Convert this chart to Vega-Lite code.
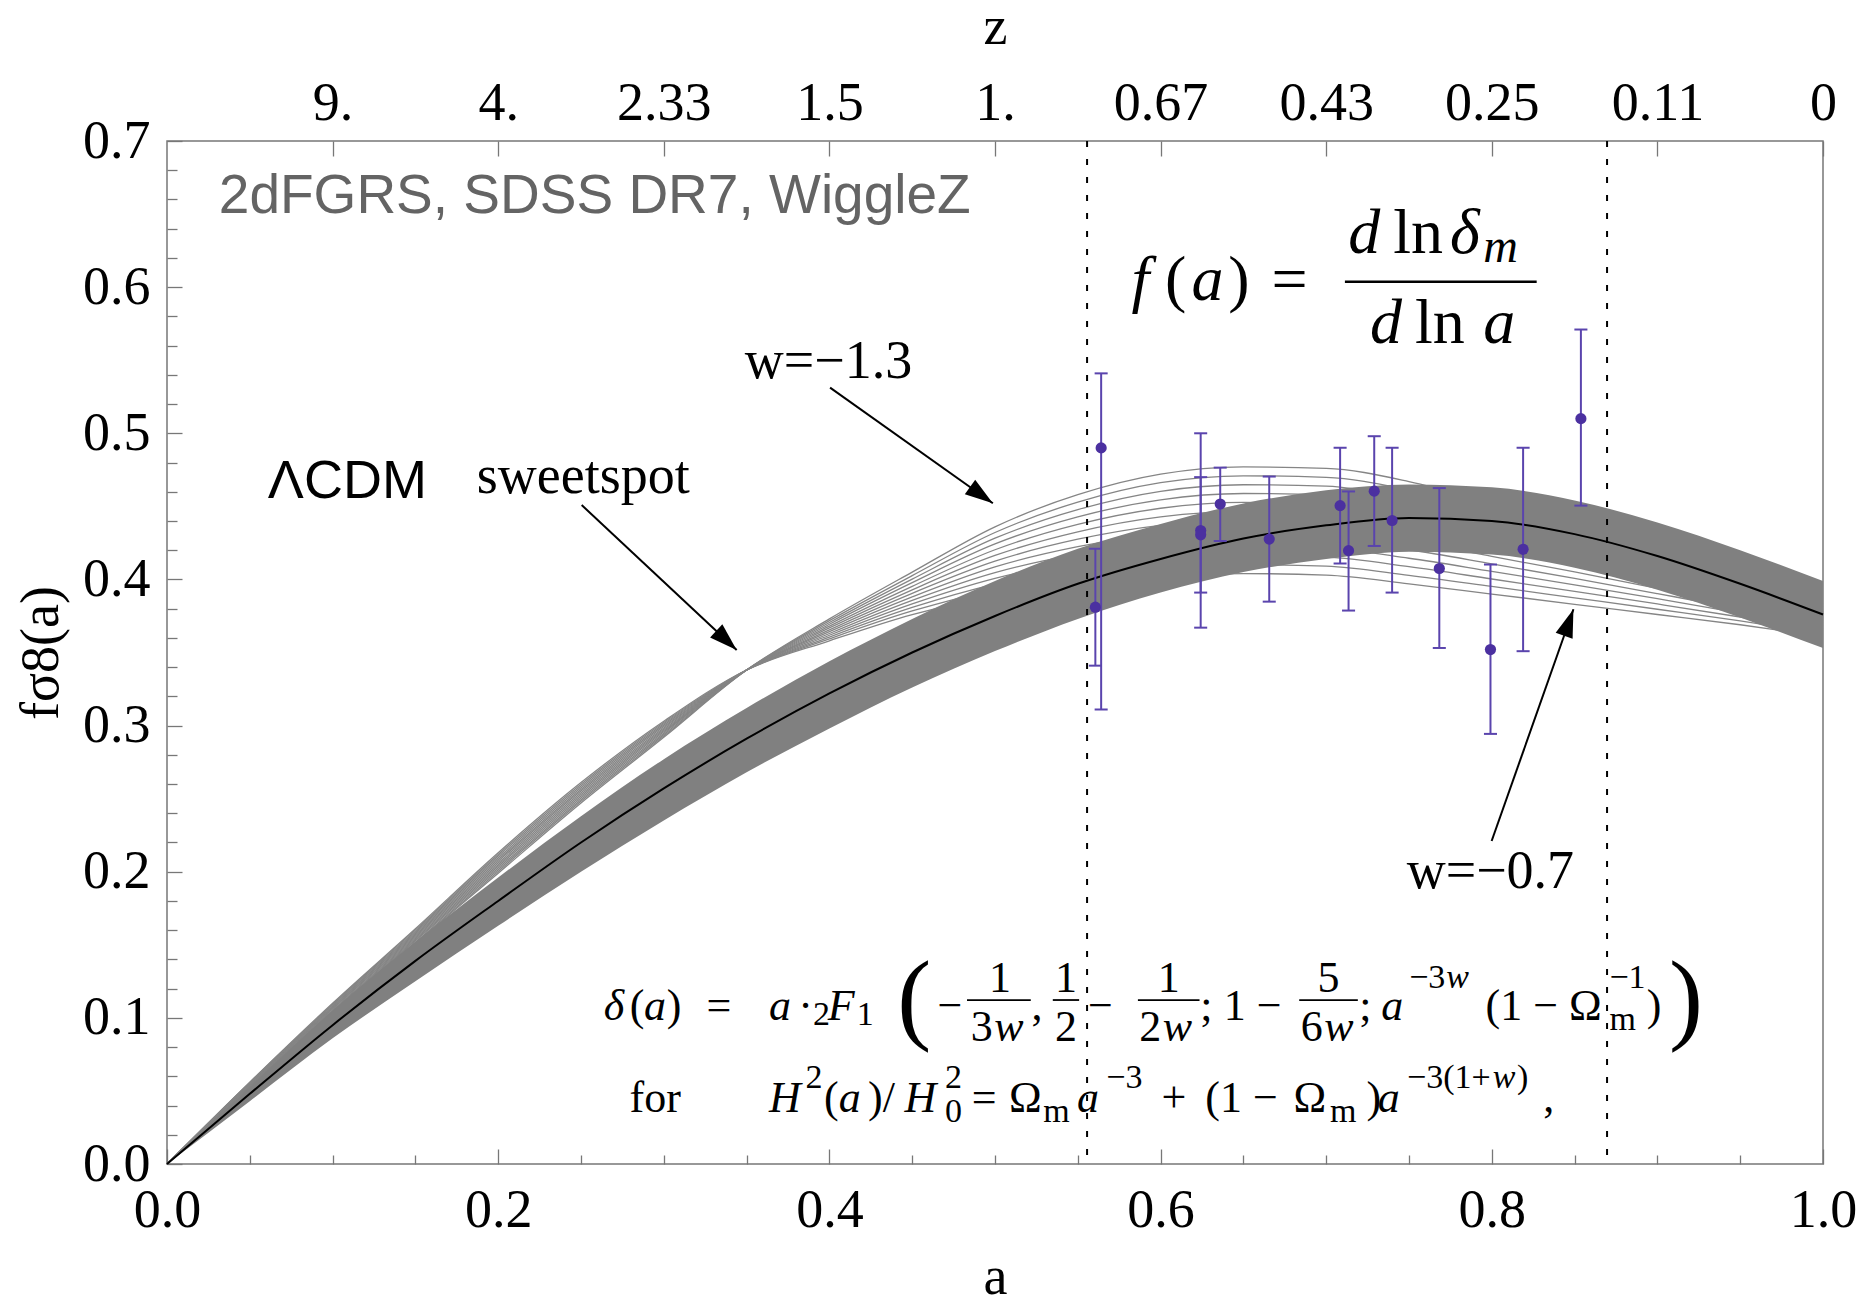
{
  "$schema": "https://vega.github.io/schema/vega-lite/v6.json",
  "width": 1656,
  "height": 1023,
  "autosize": {"type": "none"},
  "padding": {"left": 167, "top": 141, "right": 49, "bottom": 143},
  "background": "white",
  "config": {
    "view": {"stroke": "#777777", "strokeWidth": 1.5},
    "axis": {
      "domain": false, "grid": false,
      "labelFont": "Liberation Serif", "labelFontSize": 54, "labelColor": "#000000",
      "tickColor": "#777777", "tickWidth": 1.3,
      "titleFont": "Liberation Serif", "titleFontSize": 54, "titleFontWeight": "normal", "titleColor": "#000000",
      "labelFlush": false, "labelOverlap": false
    }
  },
  "datasets": {
    "wlines": [
      {"a":0,"w130":0,"w125":0,"w120":0,"w115":0,"w110":0,"w105":0,"w100":0,"w095":0,"w090":0,"w085":0,"w080":0,"w075":0,"w070":0},
      {"a":0.05,"w130":0.053,"w125":0.0533,"w120":0.0535,"w115":0.0538,"w110":0.054,"w105":0.0543,"w100":0.0545,"w095":0.0548,"w090":0.055,"w085":0.0553,"w080":0.0555,"w075":0.0558,"w070":0.056},
      {"a":0.1,"w130":0.102,"w125":0.1027,"w120":0.1033,"w115":0.104,"w110":0.1047,"w105":0.1053,"w100":0.106,"w095":0.1067,"w090":0.1073,"w085":0.108,"w080":0.1087,"w075":0.1093,"w070":0.11},
      {"a":0.15,"w130":0.151,"w125":0.1518,"w120":0.1527,"w115":0.1535,"w110":0.1543,"w105":0.1552,"w100":0.156,"w095":0.1568,"w090":0.1577,"w085":0.1585,"w080":0.1593,"w075":0.1602,"w070":0.161},
      {"a":0.2,"w130":0.199,"w125":0.2002,"w120":0.2013,"w115":0.2025,"w110":0.2037,"w105":0.2048,"w100":0.206,"w095":0.2072,"w090":0.2083,"w085":0.2095,"w080":0.2107,"w075":0.2118,"w070":0.213},
      {"a":0.25,"w130":0.247,"w125":0.2482,"w120":0.2493,"w115":0.2505,"w110":0.2517,"w105":0.2528,"w100":0.254,"w095":0.2552,"w090":0.2563,"w085":0.2575,"w080":0.2587,"w075":0.2598,"w070":0.261},
      {"a":0.3,"w130":0.292,"w125":0.2929,"w120":0.2938,"w115":0.2948,"w110":0.2957,"w105":0.2966,"w100":0.2975,"w095":0.2984,"w090":0.2993,"w085":0.3003,"w080":0.3012,"w075":0.3021,"w070":0.303},
      {"a":0.35,"w130":0.338,"w125":0.338,"w120":0.338,"w115":0.338,"w110":0.338,"w105":0.338,"w100":0.338,"w095":0.338,"w090":0.338,"w085":0.338,"w080":0.338,"w075":0.338,"w070":0.338},
      {"a":0.4,"w130":0.373,"w125":0.3718,"w120":0.3705,"w115":0.3693,"w110":0.368,"w105":0.3668,"w100":0.3655,"w095":0.3643,"w090":0.363,"w085":0.3618,"w080":0.3605,"w075":0.3593,"w070":0.358},
      {"a":0.45,"w130":0.405,"w125":0.4026,"w120":0.4002,"w115":0.3978,"w110":0.3953,"w105":0.3929,"w100":0.3905,"w095":0.3881,"w090":0.3857,"w085":0.3833,"w080":0.3808,"w075":0.3784,"w070":0.376},
      {"a":0.5,"w130":0.436,"w125":0.4321,"w120":0.4282,"w115":0.4243,"w110":0.4203,"w105":0.4164,"w100":0.4125,"w095":0.4086,"w090":0.4047,"w085":0.4008,"w080":0.3968,"w075":0.3929,"w070":0.389},
      {"a":0.55,"w130":0.458,"w125":0.4529,"w120":0.4478,"w115":0.4428,"w110":0.4377,"w105":0.4326,"w100":0.4275,"w095":0.4224,"w090":0.4173,"w085":0.4123,"w080":0.4072,"w075":0.4021,"w070":0.397},
      {"a":0.6,"w130":0.472,"w125":0.4662,"w120":0.4603,"w115":0.4545,"w110":0.4487,"w105":0.4428,"w100":0.437,"w095":0.4312,"w090":0.4253,"w085":0.4195,"w080":0.4137,"w075":0.4078,"w070":0.402},
      {"a":0.65,"w130":0.477,"w125":0.4709,"w120":0.4648,"w115":0.4588,"w110":0.4527,"w105":0.4466,"w100":0.4405,"w095":0.4344,"w090":0.4283,"w085":0.4223,"w080":0.4162,"w075":0.4101,"w070":0.404},
      {"a":0.7,"w130":0.476,"w125":0.4699,"w120":0.4638,"w115":0.4578,"w110":0.4517,"w105":0.4456,"w100":0.4395,"w095":0.4334,"w090":0.4273,"w085":0.4213,"w080":0.4152,"w075":0.4091,"w070":0.403},
      {"a":0.75,"w130":0.467,"w125":0.4612,"w120":0.4553,"w115":0.4495,"w110":0.4437,"w105":0.4378,"w100":0.432,"w095":0.4262,"w090":0.4203,"w085":0.4145,"w080":0.4087,"w075":0.4028,"w070":0.397},
      {"a":0.8,"w130":0.452,"w125":0.4468,"w120":0.4417,"w115":0.4365,"w110":0.4313,"w105":0.4262,"w100":0.421,"w095":0.4158,"w090":0.4107,"w085":0.4055,"w080":0.4003,"w075":0.3952,"w070":0.39},
      {"a":0.85,"w130":0.436,"w125":0.4316,"w120":0.4272,"w115":0.4228,"w110":0.4183,"w105":0.4139,"w100":0.4095,"w095":0.4051,"w090":0.4007,"w085":0.3963,"w080":0.3918,"w075":0.3874,"w070":0.383},
      {"a":0.9,"w130":0.419,"w125":0.4154,"w120":0.4118,"w115":0.4083,"w110":0.4047,"w105":0.4011,"w100":0.3975,"w095":0.3939,"w090":0.3903,"w085":0.3868,"w080":0.3832,"w075":0.3796,"w070":0.376},
      {"a":0.95,"w130":0.401,"w125":0.3983,"w120":0.3957,"w115":0.393,"w110":0.3903,"w105":0.3877,"w100":0.385,"w095":0.3823,"w090":0.3797,"w085":0.377,"w080":0.3743,"w075":0.3717,"w070":0.369},
      {"a":1.0,"w130":0.383,"w125":0.3812,"w120":0.3793,"w115":0.3775,"w110":0.3757,"w105":0.3738,"w100":0.372,"w095":0.3702,"w090":0.3683,"w085":0.3665,"w080":0.3647,"w075":0.3628,"w070":0.361}
    ],
    "band": [
      {"a":0,"hi":0,"lo":0,"c":0},
      {"a":0.05,"hi":0.053,"lo":0.043,"c":0.048},
      {"a":0.1,"hi":0.105,"lo":0.086,"c":0.095},
      {"a":0.15,"hi":0.152,"lo":0.125,"c":0.139},
      {"a":0.2,"hi":0.196,"lo":0.163,"c":0.18},
      {"a":0.25,"hi":0.238,"lo":0.2,"c":0.22},
      {"a":0.3,"hi":0.277,"lo":0.235,"c":0.257},
      {"a":0.35,"hi":0.312,"lo":0.268,"c":0.291},
      {"a":0.4,"hi":0.344,"lo":0.298,"c":0.322},
      {"a":0.45,"hi":0.373,"lo":0.326,"c":0.35},
      {"a":0.5,"hi":0.399,"lo":0.351,"c":0.375},
      {"a":0.55,"hi":0.421,"lo":0.373,"c":0.397},
      {"a":0.6,"hi":0.438,"lo":0.391,"c":0.414},
      {"a":0.65,"hi":0.452,"lo":0.405,"c":0.428},
      {"a":0.7,"hi":0.461,"lo":0.414,"c":0.437},
      {"a":0.75,"hi":0.465,"lo":0.419,"c":0.442},
      {"a":0.8,"hi":0.463,"lo":0.417,"c":0.44},
      {"a":0.85,"hi":0.454,"lo":0.408,"c":0.431},
      {"a":0.9,"hi":0.439,"lo":0.393,"c":0.416},
      {"a":0.95,"hi":0.42,"lo":0.374,"c":0.397},
      {"a":1.0,"hi":0.399,"lo":0.353,"c":0.376}
    ],
    "obs": [
      {"a":0.5641,"v":0.49,"lo":0.311,"hi":0.541},
      {"a":0.5606,"v":0.381,"lo":0.341,"hi":0.421},
      {"a":0.6242,"v":0.4335,"lo":0.391,"hi":0.47},
      {"a":0.6242,"v":0.4305,"lo":0.367,"hi":0.5},
      {"a":0.636,"v":0.4516,"lo":0.4263,"hi":0.4765},
      {"a":0.6656,"v":0.4276,"lo":0.3848,"hi":0.4704},
      {"a":0.7084,"v":0.4505,"lo":0.4109,"hi":0.4901},
      {"a":0.7135,"v":0.4197,"lo":0.3787,"hi":0.4602},
      {"a":0.729,"v":0.4604,"lo":0.4229,"hi":0.498},
      {"a":0.7398,"v":0.4403,"lo":0.391,"hi":0.4901},
      {"a":0.7683,"v":0.4075,"lo":0.3531,"hi":0.4625},
      {"a":0.7992,"v":0.352,"lo":0.2943,"hi":0.4102},
      {"a":0.8189,"v":0.4206,"lo":0.3509,"hi":0.4901},
      {"a":0.8538,"v":0.51,"lo":0.4505,"hi":0.571}
    ],
    "arrows": [
      {"a":0.2504,"v":0.4509,"a2":0.344,"v2":0.3517},
      {"a":0.4004,"v":0.5312,"a2":0.4987,"v2":0.4521},
      {"a":0.7999,"v":0.221,"a2":0.8493,"v2":0.3796}
    ],
    "t_serif": [
      {"a":0.1871,"v":0.4589,"t":"sweetspot"},
      {"a":0.3489,"v":0.5381,"t":"w=−1.3"},
      {"a":0.7486,"v":0.1887,"t":"w=−0.7"}
    ],
    "f_big_it": [
      {"a":0.5825,"v":0.5912,"t":"f"},
      {"a":0.6187,"v":0.5912,"t":"a"},
      {"a":0.7133,"v":0.6232,"t":"d"},
      {"a":0.7747,"v":0.6232,"t":"δ"},
      {"a":0.7264,"v":0.5616,"t":"d"},
      {"a":0.7948,"v":0.5616,"t":"a"}
    ],
    "f_big_rm": [
      {"a":0.6026,"v":0.5912,"t":"("},
      {"a":0.6408,"v":0.5912,"t":")"},
      {"a":0.667,"v":0.5912,"t":"="},
      {"a":0.7405,"v":0.6232,"t":"ln"},
      {"a":0.7536,"v":0.5616,"t":"ln"}
    ],
    "f_it": [
      {"a":0.2638,"v":0.0985,"t":"δ"},
      {"a":0.288,"v":0.0985,"t":"a"},
      {"a":0.3635,"v":0.0985,"t":"a"},
      {"a":0.399,"v":0.0985,"t":"F"},
      {"a":0.7333,"v":0.0985,"t":"a"},
      {"a":0.4995,"v":0.0842,"t":"w"},
      {"a":0.6013,"v":0.0842,"t":"w"},
      {"a":0.6988,"v":0.0842,"t":"w"},
      {"a":0.3635,"v":0.0358,"t":"H"},
      {"a":0.4056,"v":0.0358,"t":"a"},
      {"a":0.4454,"v":0.0358,"t":"H"},
      {"a":0.5495,"v":0.0358,"t":"a"},
      {"a":0.7311,"v":0.0358,"t":"a"}
    ],
    "f_rm": [
      {"a":0.2795,"v":0.0985,"t":"("},
      {"a":0.3018,"v":0.0985,"t":")"},
      {"a":0.3258,"v":0.0985,"t":"="},
      {"a":0.3812,"v":0.0985,"t":"·"},
      {"a":0.4653,"v":0.0985,"t":"−"},
      {"a":0.5221,"v":0.0985,"t":","},
      {"a":0.5562,"v":0.0985,"t":"−"},
      {"a":0.6239,"v":0.0985,"t":";"},
      {"a":0.6381,"v":0.0985,"t":"1 −"},
      {"a":0.72,"v":0.0985,"t":";"},
      {"a":0.7962,"v":0.0985,"t":"(1 − Ω"},
      {"a":0.8935,"v":0.0985,"t":")"},
      {"a":0.4853,"v":0.0842,"t":"3"},
      {"a":0.5871,"v":0.0842,"t":"2"},
      {"a":0.6846,"v":0.0842,"t":"6"},
      {"a":0.2793,"v":0.0358,"t":"for"},
      {"a":0.3967,"v":0.0358,"t":"("},
      {"a":0.4233,"v":0.0358,"t":")/"},
      {"a":0.486,"v":0.0358,"t":"="},
      {"a":0.5085,"v":0.0358,"t":"Ω"},
      {"a":0.6005,"v":0.0358,"t":"+"},
      {"a":0.627,"v":0.0358,"t":"(1 −"},
      {"a":0.6802,"v":0.0358,"t":"Ω"},
      {"a":0.7244,"v":0.0358,"t":")"},
      {"a":0.831,"v":0.0358,"t":","}
    ],
    "f_rm_c": [
      {"a":0.503,"v":0.1179,"t":"1"},
      {"a":0.5428,"v":0.1179,"t":"1"},
      {"a":0.6049,"v":0.1179,"t":"1"},
      {"a":0.7014,"v":0.1179,"t":"5"},
      {"a":0.5428,"v":0.0842,"t":"2"}
    ],
    "f_scr": [
      {"a":0.3901,"v":0.0951,"t":"2"},
      {"a":0.4165,"v":0.0951,"t":"1"},
      {"a":0.7501,"v":0.1202,"t":"−3"},
      {"a":0.871,"v":0.1202,"t":"−1"},
      {"a":0.871,"v":0.092,"t":"m"},
      {"a":0.3856,"v":0.0518,"t":"2"},
      {"a":0.4698,"v":0.0518,"t":"2"},
      {"a":0.4698,"v":0.029,"t":"0"},
      {"a":0.5292,"v":0.029,"t":"m"},
      {"a":0.5672,"v":0.0518,"t":"−3"},
      {"a":0.7023,"v":0.029,"t":"m"},
      {"a":0.7488,"v":0.0518,"t":"−3(1+"},
      {"a":0.8152,"v":0.0518,"t":")"}
    ],
    "f_scr_it": [
      {"a":0.7725,"v":0.1202,"t":"w"},
      {"a":0.8005,"v":0.0518,"t":"w"}
    ],
    "f_paren": [
      {"a":0.441,"v":0.091,"t":"("},
      {"a":0.907,"v":0.091,"t":")"}
    ],
    "f_bars": [
      {"a":0.4831,"a2":0.5216,"v":0.1122},
      {"a":0.5349,"a2":0.5508,"v":0.1122},
      {"a":0.5863,"a2":0.6235,"v":0.1122},
      {"a":0.6837,"a2":0.7191,"v":0.1122}
    ]
  },
  "resolve": {"axis": {"x": "independent", "y": "independent"}},
  "layer": [
    {
      "data": {"name": "wlines"},
      "transform": [{"fold": ["w130","w125","w120","w115","w110","w105","w100","w095","w090","w085","w080","w075","w070"], "as": ["w", "v"]}],
      "mark": {"type": "line", "stroke": "#858585", "strokeWidth": 1.3, "interpolate": "monotone"},
      "encoding": {
        "x": {"field": "a", "type": "quantitative", "scale": {"domain": [0, 1], "nice": false, "zero": false},
              "axis": {"orient": "bottom", "values": [0, 0.2, 0.4, 0.6, 0.8, 1], "format": ".1f", "tickSize": -15, "labelPadding": 34, "title": "a", "titlePadding": 13}},
        "y": {"field": "v", "type": "quantitative", "scale": {"domain": [0, 0.7], "nice": false, "zero": false},
              "axis": {"orient": "left", "values": [0, 0.1, 0.2, 0.3, 0.4, 0.5, 0.6, 0.7], "format": ".1f", "tickSize": -15, "labelPadding": 32, "title": "fσ8(a)", "titlePadding": 14}},
        "detail": {"field": "w", "type": "nominal"}
      }
    },
    {
      "data": {"name": "band"},
      "mark": {"type": "area", "color": "#808080", "opacity": 1, "interpolate": "monotone"},
      "encoding": {
        "x": {"field": "a", "type": "quantitative", "scale": {"domain": [0, 1], "nice": false, "zero": false},
              "axis": {"orient": "bottom", "values": [0.05, 0.1, 0.15, 0.25, 0.3, 0.35, 0.45, 0.5, 0.55, 0.65, 0.7, 0.75, 0.85, 0.9, 0.95], "labels": false, "tickSize": -9, "title": null}},
        "y": {"field": "hi", "type": "quantitative", "scale": {"domain": [0, 0.7], "nice": false, "zero": false},
              "axis": {"orient": "left", "values": [0.02, 0.04, 0.06, 0.08, 0.12, 0.14, 0.16, 0.18, 0.22, 0.24, 0.26, 0.28, 0.32, 0.34, 0.36, 0.38, 0.42, 0.44, 0.46, 0.48, 0.52, 0.54, 0.56, 0.58, 0.62, 0.64, 0.66, 0.68], "labels": false, "tickSize": -10, "title": null}},
        "y2": {"field": "lo"}
      }
    },
    {
      "data": {"name": "band"},
      "mark": {"type": "line", "color": "#000000", "strokeWidth": 2, "interpolate": "monotone"},
      "encoding": {
        "x": {"field": "a", "type": "quantitative", "scale": {"domain": [0, 1], "nice": false, "zero": false},
              "axis": {"orient": "top", "values": [0.1, 0.2, 0.3, 0.4, 0.5, 0.6, 0.7, 0.8, 0.9, 1], "labelExpr": "['9.','4.','2.33','1.5','1.','0.67','0.43','0.25','0.11','0'][round(datum.value*10)-1]", "tickSize": -15, "labelPadding": 26, "title": "z", "titlePadding": 22}},
        "y": {"field": "c", "type": "quantitative", "scale": {"domain": [0, 0.7], "nice": false, "zero": false}, "axis": null}
      }
    },
    {
      "data": {"values": [{"a": 0.5556}, {"a": 0.8696}]},
      "mark": {"type": "rule", "color": "#000000", "strokeWidth": 2, "strokeDash": [6, 12]},
      "encoding": {
        "x": {"field": "a", "type": "quantitative", "axis": null}
      }
    },
    {
      "data": {"name": "obs"},
      "mark": {"type": "rule", "color": "#5a44ad", "strokeWidth": 2},
      "encoding": {
        "x": {"field": "a", "type": "quantitative", "axis": null},
        "y": {"field": "lo", "type": "quantitative", "axis": null},
        "y2": {"field": "hi"}
      }
    },
    {
      "data": {"name": "obs"},
      "mark": {"type": "point", "shape": "M-1,0L1,0", "size": 170, "filled": false, "stroke": "#5a44ad", "strokeWidth": 2, "opacity": 1},
      "encoding": {
        "x": {"field": "a", "type": "quantitative", "axis": null},
        "y": {"field": "lo", "type": "quantitative", "axis": null}
      }
    },
    {
      "data": {"name": "obs"},
      "mark": {"type": "point", "shape": "M-1,0L1,0", "size": 170, "filled": false, "stroke": "#5a44ad", "strokeWidth": 2, "opacity": 1},
      "encoding": {
        "x": {"field": "a", "type": "quantitative", "axis": null},
        "y": {"field": "hi", "type": "quantitative", "axis": null}
      }
    },
    {
      "data": {"name": "obs"},
      "mark": {"type": "circle", "size": 125, "color": "#4b30a0", "opacity": 1},
      "encoding": {
        "x": {"field": "a", "type": "quantitative", "axis": null},
        "y": {"field": "v", "type": "quantitative", "axis": null}
      }
    },
    {
      "data": {"name": "arrows"},
      "mark": {"type": "rule", "color": "#000000", "strokeWidth": 2},
      "encoding": {
        "x": {"field": "a", "type": "quantitative", "axis": null},
        "y": {"field": "v", "type": "quantitative", "axis": null},
        "x2": {"field": "a2"},
        "y2": {"field": "v2"}
      }
    },
    {
      "data": {"values": [{"a": 0.344, "v": 0.3517}]},
      "mark": {"type": "point", "shape": "M0,0L-0.32,1L0.32,1Z", "size": 3136, "filled": true, "color": "#000000", "opacity": 1, "angle": 133.1},
      "encoding": {
        "x": {"field": "a", "type": "quantitative", "axis": null},
        "y": {"field": "v", "type": "quantitative", "axis": null}
      }
    },
    {
      "data": {"values": [{"a": 0.4987, "v": 0.4521}]},
      "mark": {"type": "point", "shape": "M0,0L-0.32,1L0.32,1Z", "size": 3136, "filled": true, "color": "#000000", "opacity": 1, "angle": 125.4},
      "encoding": {
        "x": {"field": "a", "type": "quantitative", "axis": null},
        "y": {"field": "v", "type": "quantitative", "axis": null}
      }
    },
    {
      "data": {"values": [{"a": 0.8493, "v": 0.3796}]},
      "mark": {"type": "point", "shape": "M0,0L-0.32,1L0.32,1Z", "size": 3136, "filled": true, "color": "#000000", "opacity": 1, "angle": 19.4},
      "encoding": {
        "x": {"field": "a", "type": "quantitative", "axis": null},
        "y": {"field": "v", "type": "quantitative", "axis": null}
      }
    },
    {
      "data": {"values": [{"a": 0.0313, "v": 0.6505, "t": "2dFGRS, SDSS DR7, WiggleZ"}]},
      "mark": {"type": "text", "font": "Liberation Sans", "fontSize": 55, "color": "#646464", "align": "left", "baseline": "alphabetic"},
      "encoding": {
        "x": {"field": "a", "type": "quantitative", "axis": null},
        "y": {"field": "v", "type": "quantitative", "axis": null},
        "text": {"field": "t"}
      }
    },
    {
      "data": {"values": [{"a": 0.0609, "v": 0.4555, "t": "ΛCDM"}]},
      "mark": {"type": "text", "font": "Liberation Sans", "fontSize": 54, "color": "#000000", "align": "left", "baseline": "alphabetic"},
      "encoding": {
        "x": {"field": "a", "type": "quantitative", "axis": null},
        "y": {"field": "v", "type": "quantitative", "axis": null},
        "text": {"field": "t"}
      }
    },
    {
      "data": {"name": "t_serif"},
      "mark": {"type": "text", "font": "Liberation Serif", "fontSize": 54, "color": "#000000", "align": "left", "baseline": "alphabetic"},
      "encoding": {
        "x": {"field": "a", "type": "quantitative", "axis": null},
        "y": {"field": "v", "type": "quantitative", "axis": null},
        "text": {"field": "t"}
      }
    },
    {
      "data": {"name": "f_big_it"},
      "mark": {"type": "text", "font": "Liberation Serif", "fontStyle": "italic", "fontSize": 64, "color": "#000000", "align": "left", "baseline": "alphabetic"},
      "encoding": {
        "x": {"field": "a", "type": "quantitative", "axis": null},
        "y": {"field": "v", "type": "quantitative", "axis": null},
        "text": {"field": "t"}
      }
    },
    {
      "data": {"name": "f_big_rm"},
      "mark": {"type": "text", "font": "Liberation Serif", "fontSize": 64, "color": "#000000", "align": "left", "baseline": "alphabetic"},
      "encoding": {
        "x": {"field": "a", "type": "quantitative", "axis": null},
        "y": {"field": "v", "type": "quantitative", "axis": null},
        "text": {"field": "t"}
      }
    },
    {
      "data": {"values": [{"a": 0.7948, "v": 0.6174, "t": "m"}]},
      "mark": {"type": "text", "font": "Liberation Serif", "fontStyle": "italic", "fontSize": 48, "color": "#000000", "align": "left", "baseline": "alphabetic"},
      "encoding": {
        "x": {"field": "a", "type": "quantitative", "axis": null},
        "y": {"field": "v", "type": "quantitative", "axis": null},
        "text": {"field": "t"}
      }
    },
    {
      "data": {"values": [{"a": 0.7113, "a2": 0.8271, "v": 0.6037}]},
      "mark": {"type": "rule", "color": "#000000", "strokeWidth": 2.6},
      "encoding": {
        "x": {"field": "a", "type": "quantitative", "axis": null},
        "x2": {"field": "a2"},
        "y": {"field": "v", "type": "quantitative", "axis": null}
      }
    },
    {
      "data": {"name": "f_it"},
      "mark": {"type": "text", "font": "Liberation Serif", "fontStyle": "italic", "fontSize": 44, "color": "#000000", "align": "left", "baseline": "alphabetic"},
      "encoding": {
        "x": {"field": "a", "type": "quantitative", "axis": null},
        "y": {"field": "v", "type": "quantitative", "axis": null},
        "text": {"field": "t"}
      }
    },
    {
      "data": {"name": "f_rm"},
      "mark": {"type": "text", "font": "Liberation Serif", "fontSize": 44, "color": "#000000", "align": "left", "baseline": "alphabetic"},
      "encoding": {
        "x": {"field": "a", "type": "quantitative", "axis": null},
        "y": {"field": "v", "type": "quantitative", "axis": null},
        "text": {"field": "t"}
      }
    },
    {
      "data": {"name": "f_rm_c"},
      "mark": {"type": "text", "font": "Liberation Serif", "fontSize": 44, "color": "#000000", "align": "center", "baseline": "alphabetic"},
      "encoding": {
        "x": {"field": "a", "type": "quantitative", "axis": null},
        "y": {"field": "v", "type": "quantitative", "axis": null},
        "text": {"field": "t"}
      }
    },
    {
      "data": {"name": "f_scr"},
      "mark": {"type": "text", "font": "Liberation Serif", "fontSize": 34, "color": "#000000", "align": "left", "baseline": "alphabetic"},
      "encoding": {
        "x": {"field": "a", "type": "quantitative", "axis": null},
        "y": {"field": "v", "type": "quantitative", "axis": null},
        "text": {"field": "t"}
      }
    },
    {
      "data": {"name": "f_scr_it"},
      "mark": {"type": "text", "font": "Liberation Serif", "fontStyle": "italic", "fontSize": 34, "color": "#000000", "align": "left", "baseline": "alphabetic"},
      "encoding": {
        "x": {"field": "a", "type": "quantitative", "axis": null},
        "y": {"field": "v", "type": "quantitative", "axis": null},
        "text": {"field": "t"}
      }
    },
    {
      "data": {"name": "f_paren"},
      "mark": {"type": "text", "font": "Liberation Serif", "fontSize": 102, "color": "#000000", "align": "left", "baseline": "alphabetic"},
      "encoding": {
        "x": {"field": "a", "type": "quantitative", "axis": null},
        "y": {"field": "v", "type": "quantitative", "axis": null},
        "text": {"field": "t"}
      }
    },
    {
      "data": {"name": "f_bars"},
      "mark": {"type": "rule", "color": "#000000", "strokeWidth": 1.8},
      "encoding": {
        "x": {"field": "a", "type": "quantitative", "axis": null},
        "x2": {"field": "a2"},
        "y": {"field": "v", "type": "quantitative", "axis": null}
      }
    }
  ]
}
